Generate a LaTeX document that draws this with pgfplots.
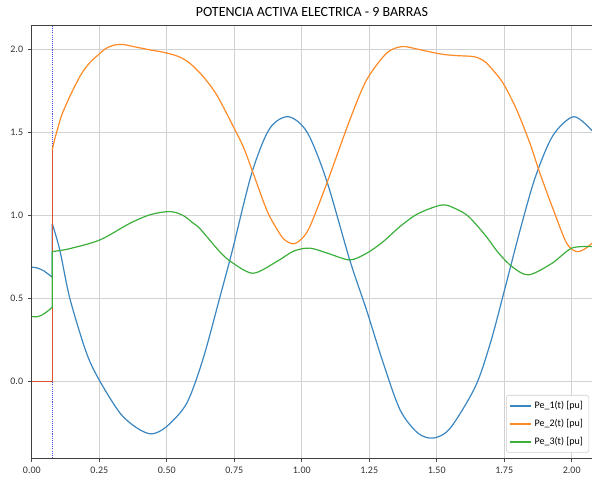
\documentclass[border=0pt]{standalone}
\usepackage{fontspec}
\setmainfont{Carlito}
\usepackage{pgfplots}
\pgfplotsset{compat=1.18}
\definecolor{c0}{HTML}{3A86C0}
\definecolor{c1}{HTML}{FF8A26}
\definecolor{c2}{HTML}{3CAF3C}
\definecolor{cred}{HTML}{E0502A}
\definecolor{cfault}{HTML}{4A4AF0}
\begin{document}
\begin{tikzpicture}
\begin{axis}[name=ax, scale only axis, width=420.15pt, height=324.75pt,
  xmin=0, xmax=2.075, ymin=-0.46, ymax=2.146,
  xtick={0,0.25,0.5,0.75,1,1.25,1.5,1.75,2},
  ytick={0,0.5,1,1.5,2},
  xticklabel style={/pgf/number format/.cd,fixed,fixed zerofill,precision=2},
  yticklabel style={/pgf/number format/.cd,fixed,fixed zerofill,precision=1},
  /pgf/number format/assume math mode=true,
  ticklabel style={font=\fontsize{7.5}{8}\selectfont, text=black!80},
  tick align=outside, tick pos=left, major tick length=3pt,
  tick style={black!70, line width=0.5pt},
  axis line style={black!75, line width=0.7pt},
  grid=major, major grid style={gray!35, line width=0.6pt},
  title={POTENCIA ACTIVA ELECTRICA - 9 BARRAS},
  title style={font=\fontsize{10.5}{11}\selectfont, yshift=-3pt},
  legend style={at={(0.995,0.012)}, anchor=south east, font=\fontsize{7.5}{8.5}\selectfont,
    draw=gray!40, rounded corners=2pt, fill=white,
    row sep=2.5pt, inner sep=2.5pt},
  legend cell align=left,
  legend image code/.code={\draw[#1, line width=1pt] (0cm,0cm) -- (0.55cm,0cm);},
]
% fault instant
\addplot[cfault, dash pattern=on 0.8pt off 0.8pt, line width=0.6pt, forget plot] coordinates {(0.076,-0.46) (0.076,2.146)};
% Pe_1 pre-fault
\addplot[c0, line width=0.9pt, forget plot] coordinates {(0,0.688) (0.015,0.686) (0.03,0.678) (0.045,0.666) (0.06,0.648) (0.076,0.628) (0.076,0.949)};
\addplot[c0, line width=0.9pt, smooth] coordinates {
(0.076,0.949) (0.104,0.79) (0.141,0.50) (0.203,0.17) (0.253,0.0) (0.327,-0.19) (0.39,-0.28) (0.444,-0.315)
(0.50,-0.27) (0.574,-0.13) (0.635,0.14) (0.697,0.51) (0.743,0.79) (0.814,1.25) (0.88,1.52) (0.95,1.594)
(1.02,1.50) (1.092,1.21) (1.178,0.73) (1.24,0.43) (1.30,0.12) (1.364,-0.17) (1.43,-0.31) (1.488,-0.34)
(1.55,-0.28) (1.643,-0.03) (1.70,0.24) (1.754,0.57) (1.81,0.92) (1.865,1.23) (1.93,1.48) (2.007,1.594) (2.075,1.51)};
\addlegendentry{Pe\_1(t) [pu]}
% Pe_2 pre-fault
\addplot[cred, line width=0.9pt, forget plot] coordinates {(0,0) (0.076,0) (0.076,1.394)};
\addplot[c1, line width=0.9pt, smooth] coordinates {
(0.076,1.394) (0.082,1.44) (0.092,1.5) (0.11,1.6) (0.135,1.695) (0.16,1.78) (0.185,1.855) (0.215,1.92)
(0.246,1.966) (0.275,2.005) (0.308,2.026) (0.34,2.028) (0.38,2.015) (0.438,1.996) (0.493,1.98) (0.545,1.955)
(0.586,1.915) (0.635,1.835) (0.685,1.725) (0.74,1.555) (0.783,1.414) (0.82,1.254) (0.87,1.033) (0.907,0.92)
(0.935,0.855) (0.969,0.829) (1.0,0.86) (1.03,0.933) (1.092,1.19) (1.178,1.575) (1.24,1.815) (1.314,1.976)
(1.371,2.016) (1.43,2.0) (1.512,1.972) (1.57,1.962) (1.635,1.956) (1.67,1.935) (1.697,1.895) (1.746,1.795)
(1.796,1.635) (1.845,1.434) (1.882,1.254) (1.932,1.033) (1.981,0.833) (2.018,0.782) (2.05,0.80) (2.075,0.833)};
\addlegendentry{Pe\_2(t) [pu]}
% Pe_3 pre-fault
\addplot[c2, line width=0.9pt, forget plot] coordinates {(0,0.391) (0.02,0.390) (0.035,0.398) (0.05,0.413) (0.065,0.432) (0.076,0.448) (0.076,0.782)};
\addplot[c2, line width=0.9pt, smooth] coordinates {
(0.076,0.782) (0.141,0.80) (0.253,0.853) (0.364,0.953) (0.44,1.005) (0.512,1.023) (0.56,1.0) (0.598,0.953)
(0.623,0.92) (0.697,0.78) (0.743,0.715) (0.82,0.652) (0.907,0.722) (0.97,0.785) (1.03,0.803) (1.10,0.77)
(1.178,0.732) (1.24,0.772) (1.30,0.84) (1.364,0.933) (1.43,1.01) (1.519,1.063) (1.57,1.04) (1.618,0.993)
(1.68,0.88) (1.729,0.773) (1.78,0.69) (1.84,0.642) (1.927,0.712) (2.0,0.803) (2.075,0.812)};
\addlegendentry{Pe\_3(t) [pu]}
\end{axis}
\pgfresetboundingbox
\path ([shift={(-23.85pt,-18.75pt)}]ax.south west) rectangle ([shift={(0pt,18.75pt)}]ax.north east);
\end{tikzpicture}
\end{document}
